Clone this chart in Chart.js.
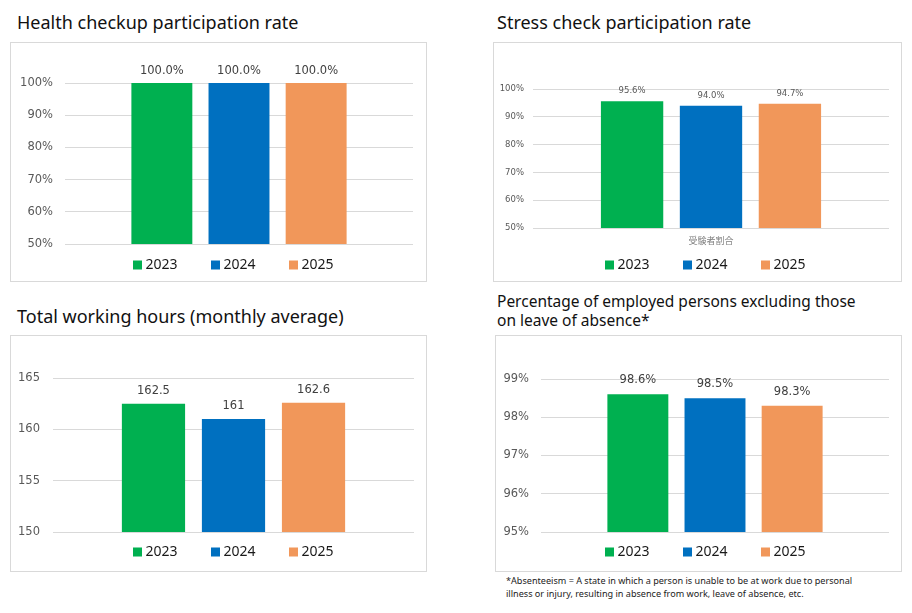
<!DOCTYPE html>
<html>
<head>
<meta charset="utf-8">
<script src="https://cdn.jsdelivr.net/npm/chart.js@4.4.1/dist/chart.umd.min.js"></script>
<style>
  html, body { margin: 0; padding: 0; background: #fff; }
  body { width: 912px; height: 613px; position: relative; overflow: hidden; font-family: 'Noto Sans', sans-serif; }
  .box { position: absolute; border: 1px solid #d9d9d9; box-sizing: border-box; }
  .title { position: absolute; white-space: nowrap; color: #111; line-height: 1; }
  canvas { position: absolute; }
  .note { position: absolute; color: #222; font-size: 9.1px; line-height: 13px; white-space: nowrap; }
</style>
</head>
<body>
<div class="title" id="t1" style="left:17px; top:12.7px; font-size:18px;">Health checkup participation rate</div>
<div class="title" id="t2" style="left:497px; top:13px; font-size:18px;">Stress check participation rate</div>
<div class="title" id="t3" style="left:17px; top:307px; font-size:18px;">Total working hours (monthly average)</div>
<div class="title" id="t4" style="left:497px; top:292px; font-size:15.5px; line-height:19px;">Percentage of employed persons excluding those<br>on leave of absence*</div>
<div class="note" style="left:506px; top:574px;">*Absenteeism = A state in which a person is unable to be at work due to personal<br>illness or injury, resulting in absence from work, leave of absence, etc.</div>

<div class="box" style="left:10px; top:42px; width:417px; height:240px;"></div>
<div class="box" style="left:493px; top:42px; width:409px; height:240px;"></div>
<div class="box" style="left:10px; top:335px; width:417px; height:237px;"></div>
<div class="box" style="left:495px; top:335px; width:407px; height:237px;"></div>

<canvas id="c1"></canvas>
<canvas id="c2"></canvas>
<canvas id="c3"></canvas>
<canvas id="c4"></canvas>

<script>
// ---------- data ----------
const years = ['2023', '2024', '2025'];

const healthCategories = [''];
const healthValues = [100.0, 100.0, 100.0];
const healthTicks = [50, 60, 70, 80, 90, 100];

const stressCategories = ['受験者割合'];
const stressValues = [95.6, 94.0, 94.7];
const stressTicks = [50, 60, 70, 80, 90, 100];

const hoursCategories = [''];
const hoursValues = [162.5, 161, 162.6];
const hoursTicks = [150, 155, 160, 165];

const presenceCategories = [''];
const presenceValues = [98.6, 98.5, 98.3];
const presenceTicks = [95, 96, 97, 98, 99];

// ---------- style ----------
const seriesColors = ['#00B050', '#0070C0', '#F1975A'];
const pct = v => v + '%';
const pct1 = v => v.toFixed(1) + '%';
const plain = v => String(v);

const panels = [
  { id: 'c1', box: [10, 42, 427, 282], area: [65, 83, 413, 244], legend: [133, 265],
    cats: healthCategories, values: healthValues, ticks: healthTicks,
    tickFmt: pct, labelFmt: pct1, tickSize: 11.5, labelSize: 11.5, tickPad: 12, labelOff: 12, xh: 0,
    tickColor: '#595959', labelColor: '#404040' },
  { id: 'c2', box: [493, 42, 902, 282], area: [533, 89, 889, 228], legend: [605, 265],
    cats: stressCategories, values: stressValues, ticks: stressTicks,
    tickFmt: pct, labelFmt: pct1, tickSize: 8.5, labelSize: 8.5, tickPad: 9, labelOff: 10, xh: 20,
    tickColor: '#595959', labelColor: '#595959' },
  { id: 'c3', box: [10, 335, 427, 572], area: [53, 378, 414, 532], legend: [133, 552],
    cats: hoursCategories, values: hoursValues, ticks: hoursTicks,
    tickFmt: plain, labelFmt: plain, tickSize: 11.5, labelSize: 11.5, tickPad: 13, labelOff: 13, xh: 0,
    tickColor: '#595959', labelColor: '#404040' },
  { id: 'c4', box: [495, 335, 902, 572], area: [541, 379, 889, 532], legend: [605, 552],
    cats: presenceCategories, values: presenceValues, ticks: presenceTicks,
    tickFmt: pct, labelFmt: pct1, tickSize: 11.5, labelSize: 11.5, tickPad: 12, labelOff: 14, xh: 0,
    tickColor: '#595959', labelColor: '#404040' }
];

panels.forEach(p => {
  const [bx, by, bx2, by2] = p.box;
  const [l, t, r, b] = p.area;
  const W = bx2 - bx, H = by2 - by;
  const cv = document.getElementById(p.id);
  cv.style.left = bx + 'px';
  cv.style.top = by + 'px';
  cv.width = W; cv.height = H;
  cv.style.width = W + 'px'; cv.style.height = H + 'px';

  const labelPlugin = {
    id: 'valueLabels_' + p.id,
    afterDatasetsDraw(chart) {
      const ctx = chart.ctx;
      ctx.save();
      ctx.font = p.labelSize + "px 'DejaVu Sans'";
      ctx.fillStyle = p.labelColor;
      ctx.textAlign = 'center';
      ctx.textBaseline = 'middle';
      chart.data.datasets.forEach((ds, i) => {
        chart.getDatasetMeta(i).data.forEach((el, j) => {
          ctx.fillText(p.labelFmt(ds.data[j]), el.x, el.y - p.labelOff);
        });
      });
      ctx.restore();
    }
  };

  const legendPlugin = {
    id: 'legend_' + p.id,
    afterDraw(chart) {
      const ctx = chart.ctx;
      ctx.save();
      ctx.font = "14px 'Noto Sans'";
      ctx.textBaseline = 'middle';
      ctx.textAlign = 'left';
      const x0 = p.legend[0] - bx, y0 = p.legend[1] - by;
      chart.data.datasets.forEach((ds, i) => {
        const x = x0 + i * 78;
        ctx.fillStyle = ds.backgroundColor;
        ctx.fillRect(x, y0 - 4.5, 9, 9);
        ctx.fillStyle = '#1a1a1a';
        ctx.fillText(ds.label, x + 12.5, y0);
      });
      ctx.restore();
    }
  };

  new Chart(cv, {
    type: 'bar',
    data: {
      labels: p.cats,
      datasets: years.map((y, i) => ({
        label: y,
        data: [p.values[i]],
        backgroundColor: seriesColors[i],
        borderWidth: 0,
        categoryPercentage: 0.665,
        barPercentage: 0.79
      }))
    },
    options: {
      responsive: false,
      animation: false,
      devicePixelRatio: 1,
      layout: { padding: { left: 0, top: t - by, right: bx2 - r, bottom: by2 - b - p.xh } },
      plugins: { legend: { display: false }, tooltip: { enabled: false } },
      scales: {
        x: {
          display: p.xh > 0,
          grid: { display: false, drawTicks: false },
          border: { display: false },
          ticks: { font: { family: "'Noto Sans CJK JP'", size: 9 }, color: '#7f7f7f', padding: 7 },
          afterFit: s => { s.height = p.xh; }
        },
        y: {
          min: p.ticks[0],
          max: p.ticks[p.ticks.length - 1],
          afterBuildTicks: s => { s.ticks = p.ticks.map(v => ({ value: v })); },
          afterFit: s => { s.width = l - bx; },
          grid: { color: '#d9d9d9', lineWidth: 1, drawTicks: false },
          border: { display: false },
          ticks: { padding: p.tickPad, color: p.tickColor, font: { family: "'DejaVu Sans'", size: p.tickSize },
                   callback: v => p.tickFmt(v) }
        }
      }
    },
    plugins: [labelPlugin, legendPlugin]
  });
});
</script>
</body>
</html>
